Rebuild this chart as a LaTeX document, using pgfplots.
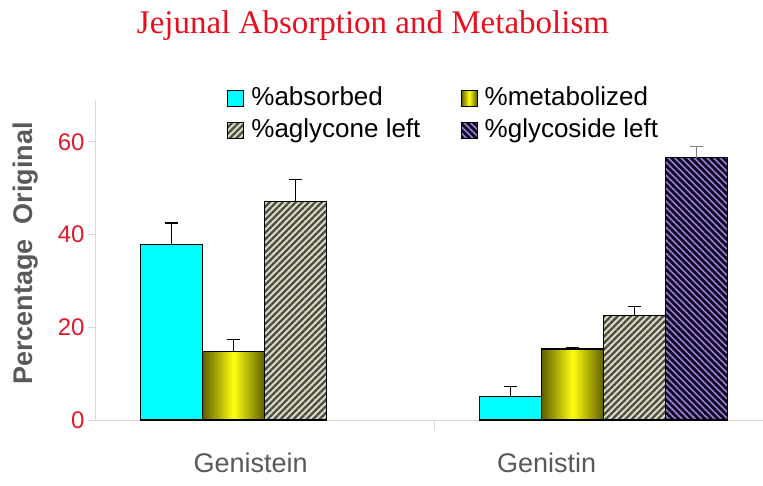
\documentclass[border=0pt]{standalone}
\usepackage{fontspec}
\setmainfont{Liberation Sans}
\newfontfamily\titlefont{Liberation Serif}
\usepackage{pgfplots}
\pgfplotsset{compat=1.18}
\usetikzlibrary{patterns.meta}

\definecolor{axline}{HTML}{E6D3D6}
\definecolor{axred}{HTML}{E0192B}
\definecolor{titlered}{HTML}{E8101E}
\definecolor{labgray}{HTML}{595959}
\definecolor{barcyan}{HTML}{00FFFF}
\definecolor{olivedark}{HTML}{5E5E00}
\definecolor{baryellow}{HTML}{FFFF10}
\definecolor{agbg}{HTML}{DCDCC4}
\definecolor{agline}{HTML}{4C4C44}
\definecolor{glbg}{HTML}{0E0620}
\definecolor{glline}{HTML}{9A80D8}

\pgfplotsset{mylegend/.style={legend image code/.code={\draw[##1] (0pt,-8pt) rectangle (16pt,8pt);}}}

\begin{document}
\begin{tikzpicture}
\path[use as bounding box] (0,0) rectangle (763pt,485pt);
\node[font=\titlefont\fontsize{33}{33}\selectfont, text=titlered, anchor=base] at (373pt,451pt) {Jejunal Absorption and Metabolism};
\begin{axis}[
  at={(95pt,65pt)}, anchor=south west,
  scale only axis, width=668pt, height=320pt,
  xmin=-0.5, xmax=1.47, ymin=0, ymax=69,
  axis lines=left, axis line style={-, draw=axline, line width=0.8pt},
  ybar=0pt, bar width=0.183,
  ytick={0,20,40,60},
  /pgf/number format/assume math mode=true,
  yticklabel style={font=\fontsize{24}{24}\selectfont, text=axred},
  ytick style={draw=axline, line width=0.8pt},
  tick align=outside, major tick length=7pt,
  xtick={-0.041,0.832}, xticklabels={Genistein,Genistin},
  xtick style={draw=none},
  xticklabel style={font=\fontsize{27}{27}\selectfont, text=labgray, yshift=-22pt},
  extra x ticks={0.5}, extra x tick labels={},
  extra x tick style={xtick style={draw=axline, line width=0.8pt}, major tick length=10pt},
  ylabel={Percentage\ \ Original},
  ylabel style={at={(axis description cs:-0.104,0.52)}, anchor=center, font=\bfseries\fontsize{27}{27}\selectfont, text=labgray},
  legend columns=2,
  legend cell align=left,
  legend style={at={(axis description cs:0.1976,1.047)}, anchor=north west, draw=none, fill=none,
    font=\fontsize{26}{26}\selectfont, inner sep=0pt, row sep=6pt,
    nodes={inner sep=0pt, text height=20pt, text depth=6pt},
    /tikz/every odd column/.append style={column sep=7pt},
    /tikz/every even column/.append style={column sep=40pt}},
  error bars/y dir=plus, error bars/y explicit,
  error bars/error bar style={black, line width=1.2pt},
  error bars/error mark options={rotate=90, black, line width=1.2pt, mark size=6.5pt},
]
\addplot[fill=barcyan, draw=black, line width=1.2pt, bar shift=-0.2745, mylegend]
  coordinates {(0,37.8) +- (0,4.7) (1,5.0) +- (0,2.2)};
\addlegendentry{\%absorbed}
\addplot[left color=olivedark, right color=olivedark, middle color=baryellow, draw=black, line width=1.2pt, bar shift=-0.0915, mylegend]
  coordinates {(0,14.7) +- (0,2.6)};
\addlegendentry{\%metabolized}
\addplot[fill=agbg, draw=black, line width=1.2pt, bar shift=0.0915, postaction={pattern={Lines[angle=45,distance=4.6pt,line width=2.3pt]}, pattern color=agline}, mylegend]
  coordinates {(0,47.1) +- (0,4.7) (1,22.6) +- (0,1.8)};
\addlegendentry{\%aglycone left}
\addplot[fill=glbg, draw=black, line width=1.2pt, bar shift=0.2745, postaction={pattern={Lines[angle=-45,distance=4.6pt,line width=1.6pt]}, pattern color=glline}, mylegend,
  error bars/error bar style={gray, line width=1.2pt},
  error bars/error mark options={rotate=90, gray, line width=1.2pt, mark size=6.5pt}]
  coordinates {(1,56.6) +- (0,2.4)};
\addlegendentry{\%glycoside left}
\addplot[left color=olivedark, right color=olivedark, middle color=baryellow, draw=black, line width=1.2pt, bar shift=-0.0915, forget plot]
  coordinates {(1,15.3) +- (0,0.3)};
\end{axis}
\end{tikzpicture}
\end{document}
